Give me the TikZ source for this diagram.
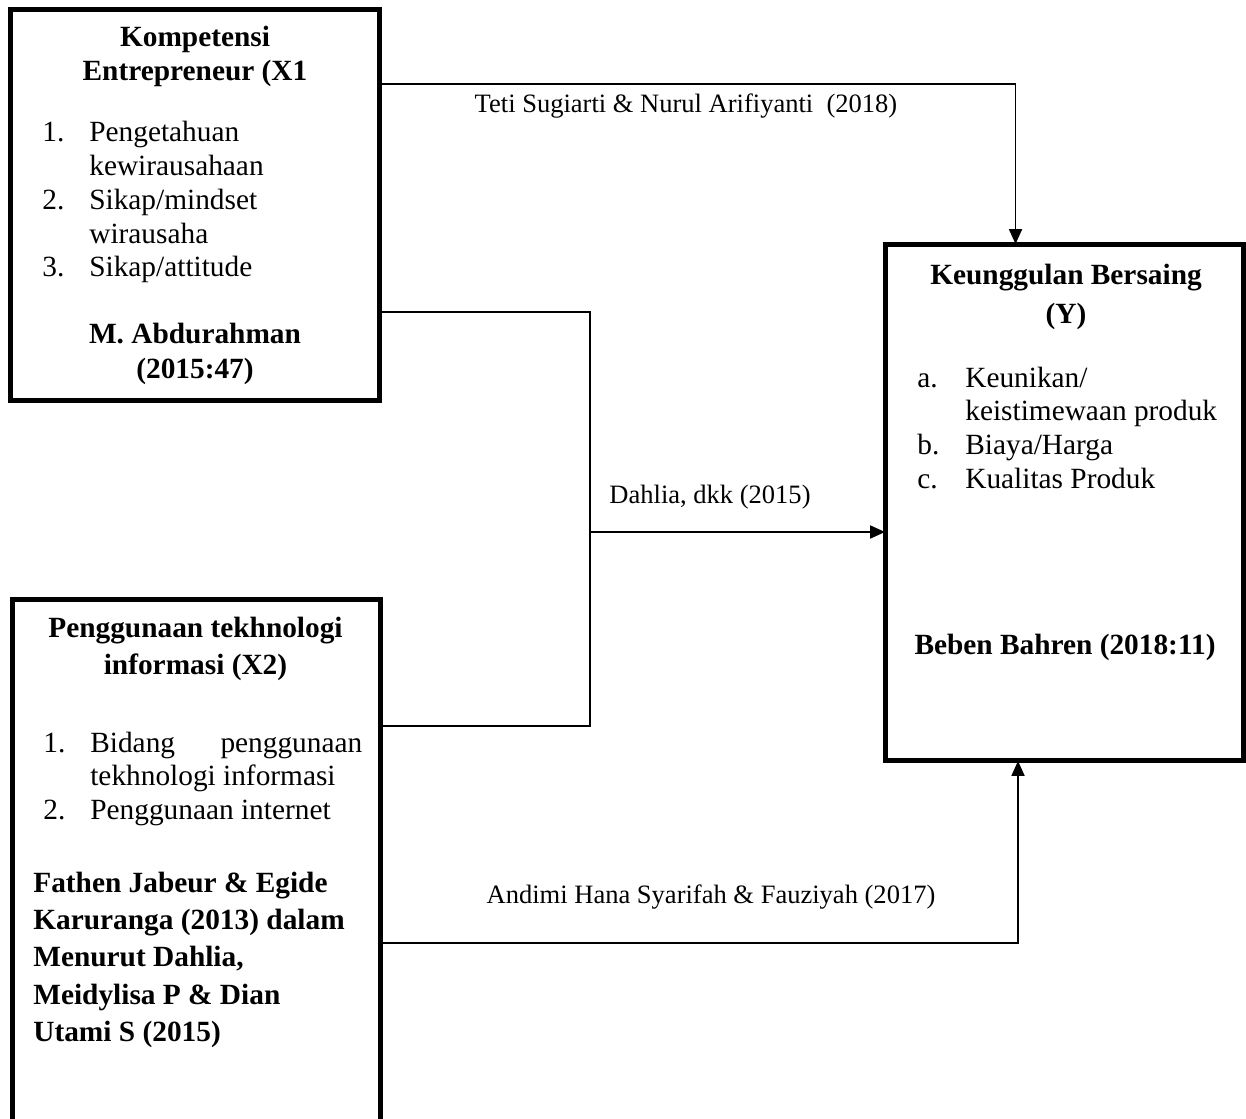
\documentclass[tikz,border=0pt]{standalone}
\usepackage{fontspec}
\setmainfont{Liberation Serif}
\usetikzlibrary{arrows.meta}

\begin{document}
\begin{tikzpicture}[x = 0.02cm, y = -0.02cm,
		box/.style = {draw, line width = 0.1cm, inner sep = 0, outer sep = 0},
		txt/.style = {inner sep = 0, font = \fontsize{16.7pt}{19.2pt}\selectfont},
		src/.style = {inner sep = 0, font = \fontsize{15.1pt}{18pt}\selectfont},
		link/.style = {line width = 1.1pt},
		arrow/.style = {link, -{Triangle[length = 0.3cm, width = 0.26cm]}}]
		\useasboundingbox (0,0) rectangle (1246,1118);
		% the three boxes
		\node[box, minimum width = 7.38cm, minimum height = 7.82cm] (x1) at (195,205) {};
		\node[box, minimum width = 7.36cm, minimum height = 10.82cm] (x2) at (196.5,869.5) {};
		\node[box, minimum width = 7.18cm, minimum height = 10.34cm] (y) at (1064.5,502.5) {};
		% X1
		\node[txt, anchor = base, font = \fontsize{16.7pt}{19.5pt}\selectfont\bfseries] (x1title) at (195,46.7)
			{\begin{tabular}[t]{@{}c@{}}Kompetensi\\ Entrepreneur (X1\end{tabular}};
		\node[txt, anchor = base west] (x1list) at (42,142)
			{\begin{tabular}[t]{@{}p{0.94cm}@{}l@{}}
				1. & Pengetahuan\\
				   & kewirausahaan\\
				2. & Sikap/mindset\\
				   & wirausaha\\
				3. & Sikap/attitude
			\end{tabular}};
		\node[txt, anchor = base, font = \fontsize{16.7pt}{19.9pt}\selectfont\bfseries] (x1src) at (195,343.3)
			{\begin{tabular}[t]{@{}c@{}}M. Abdurahman\\ (2015:47)\end{tabular}};
		% X2
		\node[txt, anchor = base, font = \fontsize{16.7pt}{21.1pt}\selectfont\bfseries] (x2title) at (195.5,637)
			{\begin{tabular}[t]{@{}c@{}}Penggunaan tekhnologi\\ informasi (X2)\end{tabular}};
		\node[txt, anchor = base west] (x2list) at (43,752)
			{\begin{tabular}[t]{@{}p{0.94cm}@{}l@{}}
				1. & \makebox[5.44cm][s]{Bidang penggunaan}\\
				   & tekhnologi informasi\\
				2. & Penggunaan internet
			\end{tabular}};
		\node[txt, anchor = base west, font = \fontsize{16.7pt}{21.3pt}\selectfont\bfseries] (x2src) at (33,892)
			{\begin{tabular}[t]{@{}l@{}}
				Fathen Jabeur \& Egide\\
				Karuranga (2013) dalam\\
				Menurut Dahlia,\\
				Meidylisa P \& Dian\\
				Utami S (2015)
			\end{tabular}};
		% Y
		\node[txt, anchor = base, font = \fontsize{16.7pt}{22.2pt}\selectfont\bfseries] (ytitle) at (1066,284)
			{\begin{tabular}[t]{@{}c@{}}Keunggulan Bersaing\\ (Y)\end{tabular}};
		\node[txt, anchor = base west] (ylist) at (917,387)
			{\begin{tabular}[t]{@{}p{0.96cm}@{}l@{}}
				a. & Keunikan/\\
				   & keistimewaan produk\\
				b. & Biaya/Harga\\
				c. & Kualitas Produk
			\end{tabular}};
		\node[txt, anchor = base, font = \fontsize{16.7pt}{19.2pt}\selectfont\bfseries] (ysrc) at (1065,654.8) {Beben Bahren (2018:11)};
		% connectors
		\coordinate (jn) at (590,532);
		\draw[arrow] ([yshift = -1.49cm]x1.north east) -| ([xshift = 2.61cm]y.north west);
		\draw[link] ([yshift = 1.77cm]x1.south east) -| (jn) |- ([yshift = -2.54cm]x2.north east);
		\draw[arrow] (jn) -- (jn -| y.west);
		\draw[arrow] ([yshift = -6.88cm]x2.north east) -| ([xshift = 2.66cm]y.south west);
		\node[src, anchor = base] (teti) at (686,113) {Teti Sugiarti \& Nurul Arifiyanti\ \ (2018)};
		\node[src, anchor = base] (dahlia) at (710,503) {Dahlia, dkk (2015)};
		\node[src, anchor = base] (andimi) at (711,903) {Andimi Hana Syarifah \& Fauziyah (2017)};
	\end{tikzpicture}
\end{document}
